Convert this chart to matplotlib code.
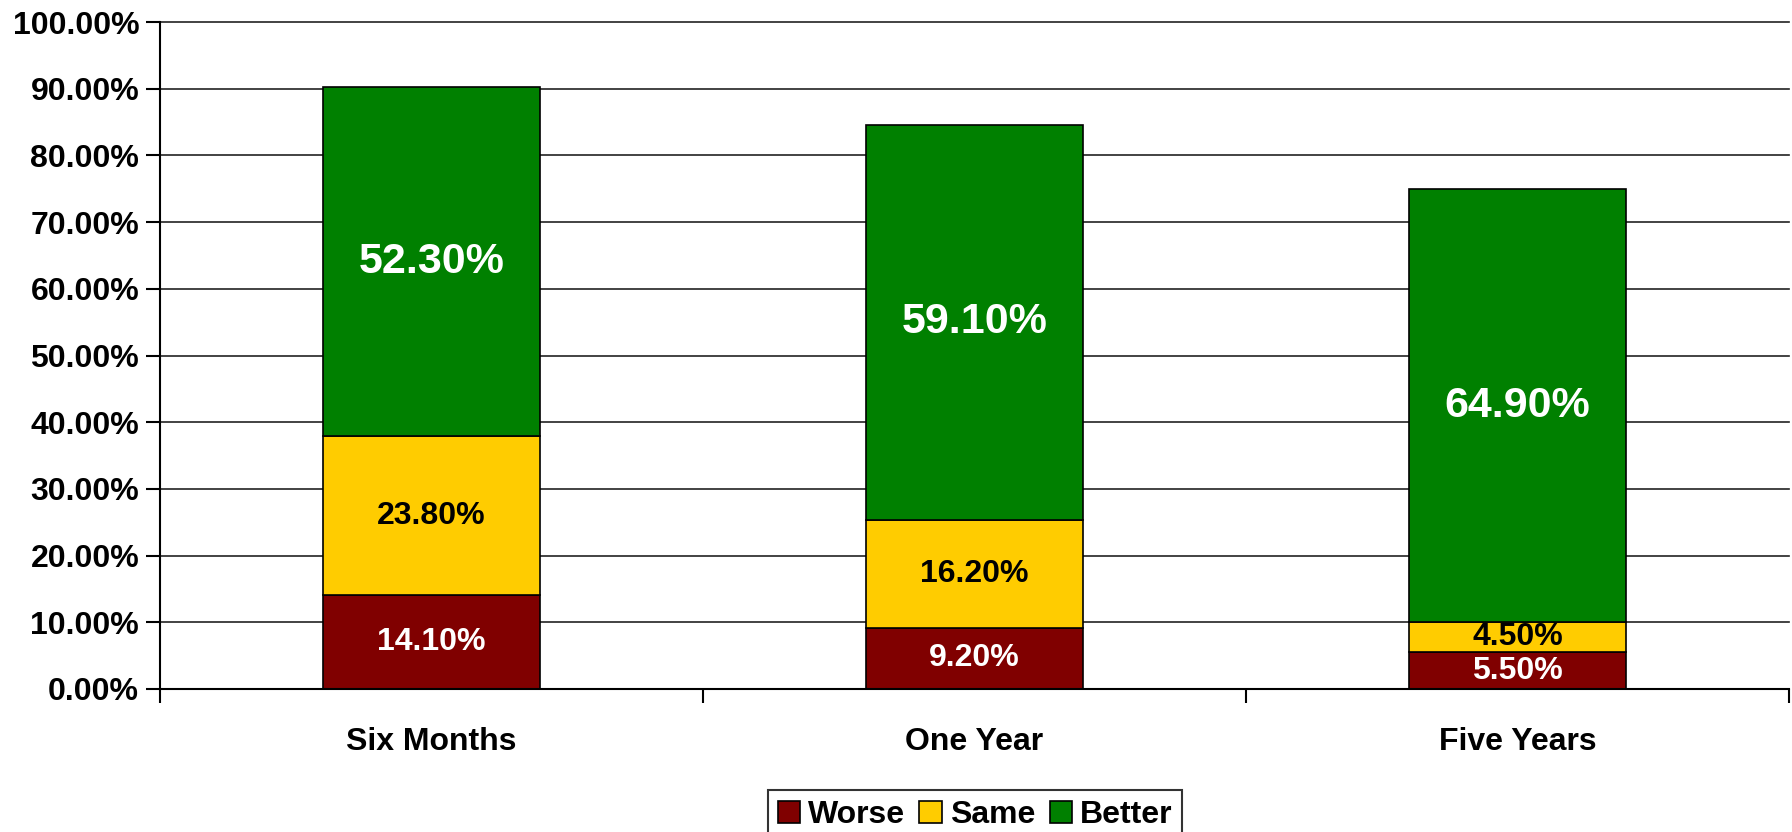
import numpy as np
import matplotlib.pyplot as plt
from matplotlib.ticker import FuncFormatter

plt.rcParams['font.family'] = ['Liberation Sans', 'DejaVu Sans']
plt.rcParams['font.weight'] = 'bold'

categories = ['Six Months', 'One Year', 'Five Years']
worse = [14.1, 9.2, 5.5]
same = [23.8, 16.2, 4.5]
better = [52.3, 59.1, 64.9]

series_names = ['Worse', 'Same', 'Better']
colors = ['#800000', '#FFCC00', '#008000']
label_colors = ['white', 'black', 'white']
label_sizes = [23, 23, 31]

fig = plt.figure(figsize=(17.92, 8.32), dpi=100)
ax = fig.add_axes([160 / 1792, 1 - 689 / 832, 1629 / 1792, 667 / 832])

x = np.arange(len(categories))
bottom = np.zeros(len(categories))
for vals, name, col, lc, ls in zip([worse, same, better], series_names, colors, label_colors, label_sizes):
    vals = np.array(vals)
    ax.bar(x, vals, width=0.4, bottom=bottom, color=col, edgecolor='black', linewidth=1.2,
           label=name, zorder=3)
    for xi, b, v in zip(x, bottom, vals):
        ax.text(xi, b + v / 2, '%.2f%%' % v, ha='center', va='center', color=lc,
                fontsize=ls, fontweight='bold', zorder=4)
    bottom = bottom + vals

ax.set_xlim(-0.5, 2.5)
ax.set_ylim(0, 100)
ax.set_yticks(np.arange(0, 101, 10))
ax.yaxis.set_major_formatter(FuncFormatter(lambda v, p: '%.2f%%' % v))
ax.yaxis.grid(True, color='#222222', linewidth=1.2, zorder=0)
for line in ax.get_ygridlines():
    line.set_clip_on(False)

# category labels between boundary ticks
ax.set_xticks([-0.5, 0.5, 1.5, 2.5])
ax.set_xticklabels([])
ax.set_xticks(x, minor=True)
ax.set_xticklabels(categories, minor=True)
ax.tick_params(axis='x', which='minor', length=0, pad=27, labelsize=23)
ax.tick_params(axis='x', which='major', length=10, width=1.5, direction='out')
ax.tick_params(axis='y', length=10, width=1.5, direction='out', labelsize=23, pad=5)

for side in ['top', 'right']:
    ax.spines[side].set_visible(False)
ax.spines['left'].set_linewidth(1.5)
ax.spines['bottom'].set_linewidth(1.5)
ax.spines['left'].set_zorder(5)
ax.spines['bottom'].set_zorder(5)

leg = fig.legend(loc='center', bbox_to_anchor=(975 / 1792, 1 - 815 / 832), ncol=3, fontsize=23,
                 frameon=True, fancybox=False, edgecolor='black', handlelength=0.7,
                 handleheight=0.7, handletextpad=0.25, columnspacing=0.45, borderpad=0.3)
leg.get_frame().set_linewidth(1.5)

fig.savefig('out.png', dpi=100)
